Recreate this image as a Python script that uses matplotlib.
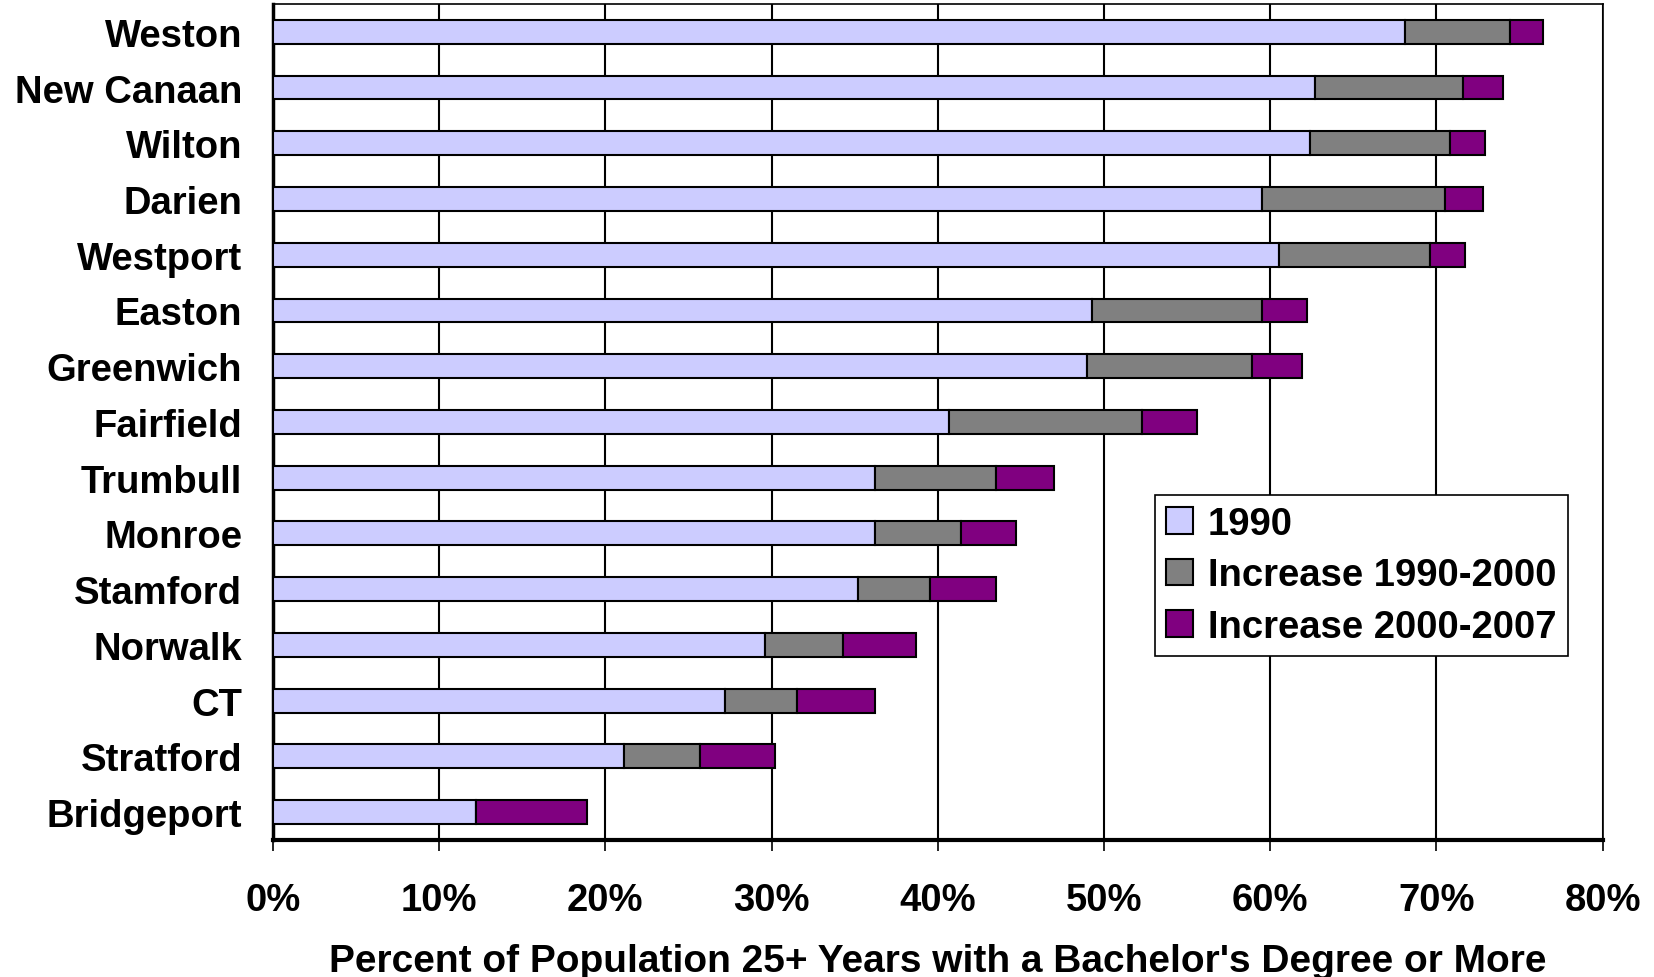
import matplotlib
matplotlib.use("Agg")
import matplotlib.pyplot as plt
from matplotlib.ticker import FuncFormatter, MultipleLocator

towns = ["Weston", "New Canaan", "Wilton", "Darien", "Westport", "Easton",
         "Greenwich", "Fairfield", "Trumbull", "Monroe", "Stamford",
         "Norwalk", "CT", "Stratford", "Bridgeport"]
pct_1990 = [68.1, 62.7, 62.4, 59.5, 60.5, 49.3, 49.0, 40.7, 36.2, 36.2,
            35.2, 29.6, 27.2, 21.1, 12.2]
inc_1990_2000 = [6.3, 8.9, 8.4, 11.0, 9.1, 10.2, 9.9, 11.6, 7.3, 5.2,
                 4.3, 4.7, 4.3, 4.6, 0.0]
inc_2000_2007 = [2.0, 2.4, 2.1, 2.3, 2.1, 2.7, 3.0, 3.3, 3.5, 3.3,
                 4.0, 4.4, 4.7, 4.5, 6.7]
series_names = ["1990", "Increase 1990-2000", "Increase 2000-2007"]
colors = ["#CCCCFF", "#808080", "#800080"]

plt.rcParams['font.family'] = ['Liberation Sans', 'DejaVu Sans']
plt.rcParams['font.weight'] = 'bold'

fig = plt.figure(figsize=(16.54, 9.78), dpi=100)
ax = fig.add_axes([0.165, 0.14, 0.804, 0.855])

y = list(range(len(towns)))
left2 = pct_1990
left3 = [a + b for a, b in zip(pct_1990, inc_1990_2000)]
h = 0.43
ax.barh(y, pct_1990, height=h, color=colors[0], edgecolor="black", linewidth=1.5,
        label=series_names[0], zorder=3)
ax.barh(y, inc_1990_2000, left=left2, height=h, color=colors[1], edgecolor="black",
        linewidth=1.5, label=series_names[1], zorder=3)
ax.barh(y, inc_2000_2007, left=left3, height=h, color=colors[2], edgecolor="black",
        linewidth=1.5, label=series_names[2], zorder=3)

ax.set_xlim(0, 80)
ax.set_ylim(len(towns) - 0.5, -0.5)
ax.set_yticks(y)
ax.set_yticklabels(towns, fontsize=27.5, fontweight='bold')
ax.tick_params(axis='y', length=0, pad=22)
ax.xaxis.set_major_locator(MultipleLocator(10))
ax.xaxis.set_major_formatter(FuncFormatter(lambda v, p: f"{int(round(v))}%"))
ax.tick_params(axis='x', length=8, width=1.2, direction='out', pad=22, labelsize=27.5)
for lab in ax.get_xticklabels():
    lab.set_fontweight('bold')

ax.grid(axis='x', color='black', linewidth=1.5, zorder=0)
ax.set_axisbelow(True)
ax.spines['left'].set_linewidth(2.5)
ax.spines['bottom'].set_linewidth(3)
ax.spines['top'].set_linewidth(1.2)
ax.spines['right'].set_linewidth(1.2)

ax.set_xlabel("Percent of Population 25+ Years with a Bachelor's Degree or More",
              fontsize=28, fontweight='bold', labelpad=18)

leg = ax.legend(loc='upper left', bbox_to_anchor=(0.663, 0.413), fontsize=27.5,
                frameon=True, fancybox=False, edgecolor='black', framealpha=1,
                handlelength=0.7, handleheight=0.7, handletextpad=0.4,
                borderpad=0.3, labelspacing=0.4, borderaxespad=0)
leg.get_frame().set_linewidth(1.2)
for t in leg.get_texts():
    t.set_fontweight('bold')

fig.savefig("out.png", dpi=100)
